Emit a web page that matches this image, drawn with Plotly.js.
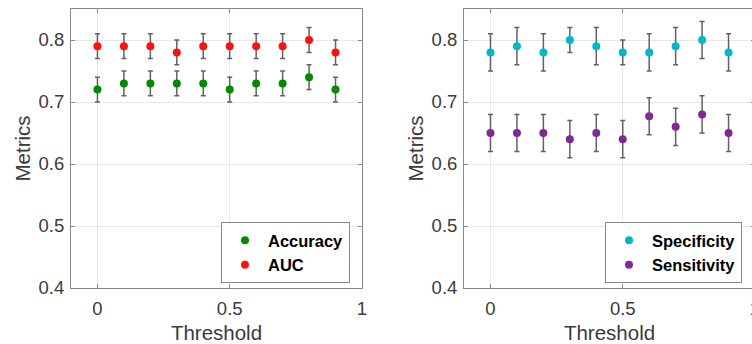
<!DOCTYPE html>
<html>
<head>
<meta charset="utf-8">
<script src="https://cdn.plot.ly/plotly-3.0.1.min.js"></script>
<style>
html,body{margin:0;padding:0;overflow:hidden;background:#fff;}
#chart{width:760px;height:344px;}
</style>
</head>
<body>
<div id="chart"></div>
<script>
const thresholds = [0, 0.1, 0.2, 0.3, 0.4, 0.5, 0.6, 0.7, 0.8, 0.9];
const accuracy    = [0.72, 0.73, 0.73, 0.73, 0.73, 0.72, 0.73, 0.73, 0.74, 0.72];
const accuracyErr = [0.02, 0.02, 0.02, 0.02, 0.02, 0.02, 0.02, 0.02, 0.02, 0.02];
const auc         = [0.79, 0.79, 0.79, 0.78, 0.79, 0.79, 0.79, 0.79, 0.80, 0.78];
const aucErr      = [0.02, 0.02, 0.02, 0.02, 0.02, 0.02, 0.02, 0.02, 0.02, 0.02];
const specificity    = [0.78, 0.79, 0.78, 0.80, 0.79, 0.78, 0.78, 0.79, 0.80, 0.78];
const specificityErr = [0.03, 0.03, 0.03, 0.02, 0.03, 0.02, 0.03, 0.03, 0.03, 0.03];
const sensitivity    = [0.65, 0.65, 0.65, 0.64, 0.65, 0.64, 0.677, 0.66, 0.68, 0.65];
const sensitivityErr = [0.03, 0.03, 0.03, 0.03, 0.03, 0.03, 0.03, 0.03, 0.03, 0.03];
const xTicks = [0, 0.5, 1];
const xTickText = ['0', '0.5', '1'];
const yTicks = [0.4, 0.5, 0.6, 0.7, 0.8];
const yTickText = ['0.4', '0.5', '0.6', '0.7', '0.8'];

const errStyle = (arr) => ({type:'data', array:arr, visible:true, color:'rgba(70,70,70,0.85)', thickness:1.5, width:2.5});
const mk = (c) => ({color:c, size:8});

const traces = [
  {x:thresholds, y:accuracy, error_y:errStyle(accuracyErr), mode:'markers', type:'scatter', name:'Accuracy', marker:mk('#008a00'), xaxis:'x', yaxis:'y', legend:'legend'},
  {x:thresholds, y:auc, error_y:errStyle(aucErr), mode:'markers', type:'scatter', name:'AUC', marker:mk('#ff1010'), xaxis:'x', yaxis:'y', legend:'legend'},
  {x:thresholds, y:specificity, error_y:errStyle(specificityErr), mode:'markers', type:'scatter', name:'Specificity', marker:mk('#00b8c8'), xaxis:'x2', yaxis:'y2', legend:'legend2'},
  {x:thresholds, y:sensitivity, error_y:errStyle(sensitivityErr), mode:'markers', type:'scatter', name:'Sensitivity', marker:mk('#7e2a90'), xaxis:'x2', yaxis:'y2', legend:'legend2'}
];

const tickFont = {family:'Liberation Sans, Arial, sans-serif', size:18.5, color:'#3a3a3a'};
const titleFont = {family:'Liberation Sans, Arial, sans-serif', size:20.5, color:'#3a3a3a'};
const axBase = {
  showline:true, linecolor:'#8a8a8a', linewidth:1, mirror:'ticks',
  ticks:'inside', ticklen:4, tickcolor:'#8a8a8a',
  showgrid:true, gridcolor:'#e8e8e8', gridwidth:1, zeroline:false,
  tickfont:tickFont, automargin:false, tickmode:'array', ticklabeloverflow:'allow'
};
const xAx = (dom, anchor) => Object.assign({}, axBase, {domain:dom, anchor:anchor, range:[-0.1, 1], tickvals:xTicks, ticktext:xTickText, ticklabelstandoff:4, title:{text:'Threshold', font:titleFont, standoff:12}});
const yAx = (anchor) => Object.assign({}, axBase, {domain:[0,1], anchor:anchor, range:[0.4, 0.85], tickvals:yTicks, ticktext:yTickText, ticklabelstandoff:2, title:{text:'Metrics', font:titleFont, standoff:2}});

const legBase = {
  xref:'paper', yref:'paper', yanchor:'top', xanchor:'left', y:0.2366,
  bgcolor:'#ffffff', bordercolor:'#8a8a8a', borderwidth:1,
  font:{family:'Liberation Sans, Arial, sans-serif', size:16.5, color:'#000', weight:'bold'},
  itemwidth:36, tracegroupgap:0
};

const layout = {
  width:760, height:344,
  margin:{l:71, r:5, t:9, b:56},
  paper_bgcolor:'#fff', plot_bgcolor:'#fff',
  showlegend:true,
  xaxis:xAx([0, 0.4254], 'y'),
  yaxis:yAx('x'),
  xaxis2:xAx([0.5746, 1], 'y2'),
  yaxis2:yAx('x2'),
  legend:Object.assign({}, legBase, {x:0.2193}),
  legend2:Object.assign({}, legBase, {x:0.7807})
};

Plotly.newPlot('chart', traces, layout, {staticPlot:true, displayModeBar:false});
</script>
</body>
</html>
